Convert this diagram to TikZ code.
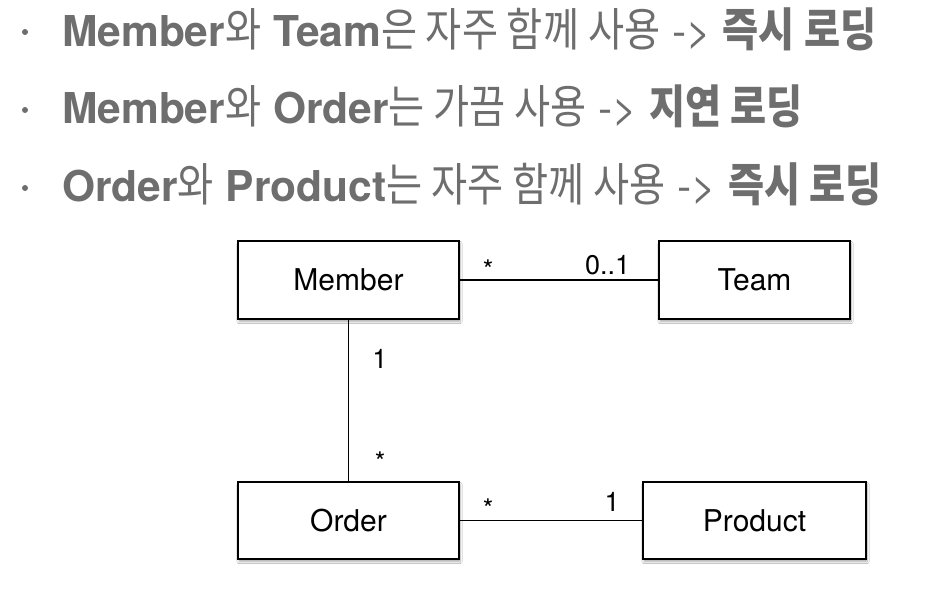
\documentclass[tikz,border=0pt]{standalone}
\usepackage{fontspec}
\setmainfont{TeX Gyre Heros}
\newfontfamily\kr[FakeStretch=0.855, Scale=1.08]{Noto Sans CJK KR}
\usetikzlibrary{shadows.blur}
\definecolor{tgray}{HTML}{6E6E6E}
\tikzset{
  headline/.style={anchor=base west, inner sep=0pt, text=tgray, font=\fontsize{42.5}{50}\selectfont},
  bulletdot/.style={circle, fill=tgray, inner sep=0pt, minimum size=6pt},
  umlbox/.style={draw=black, line width=1.8pt, fill=white, minimum height=78pt, inner sep=0pt,
    font=\fontsize{30}{36}\selectfont,
    blur shadow={shadow xshift=1pt, shadow yshift=-2.5pt, shadow blur steps=6, shadow opacity=35}},
  conn/.style={draw=black, line width=1.8pt},
  mult/.style={anchor=base, inner sep=0pt, font=\fontsize{27}{32}\selectfont}
}
\begin{document}
\begin{tikzpicture}[x=1pt, y=-1pt]
\path[use as bounding box, fill=white] (0,0) rectangle (952,591);
% headlines
\node[bulletdot] (b1) at (25,32) {};
\node[bulletdot] (b2) at (25,110) {};
\node[bulletdot] (b3) at (25,188) {};
\node[headline] (l1) at (62,47) {\textbf{Member}{\kr 와} \textbf{Team}{\kr 은 자주 함께 사용} -> {\kr\bfseries 즉시 로딩}};
\node[headline] (l2) at (62,124) {\textbf{Member}{\kr 와} \textbf{Order}{\kr 는 가끔 사용} -> {\kr\bfseries 지연 로딩}};
\node[headline] (l3) at (62,201) {\textbf{Order}{\kr 와} \textbf{Product}{\kr 는 자주 함께 사용} -> {\kr\bfseries 즉시 로딩}};
% boxes
\node[umlbox, minimum width=221pt] (member) at (348.5,280) {Member};
\node[umlbox, minimum width=191pt] (team) at (754.5,280) {Team};
\node[umlbox, minimum width=221pt, minimum height=77pt] (order) at (348.5,520.5) {Order};
\node[umlbox, minimum width=223pt, minimum height=77pt] (product) at (754.5,520.5) {Product};
% connectors
\draw[conn] (member.east) -- (team.west);
\draw[conn] (member.south) -- (order.north);
\draw[conn] (order.east) -- (product.west);
% multiplicities
\node[mult] (m1) at (488,279) {*};
\node[mult, anchor=base west] (m2) at (585,274) {0..1};
\node[mult] (m3) at (380,368) {1};
\node[mult] (m4) at (380,471) {*};
\node[mult] (m5) at (488,518) {*};
\node[mult] (m6) at (612,511) {1};
\end{tikzpicture}
\end{document}
